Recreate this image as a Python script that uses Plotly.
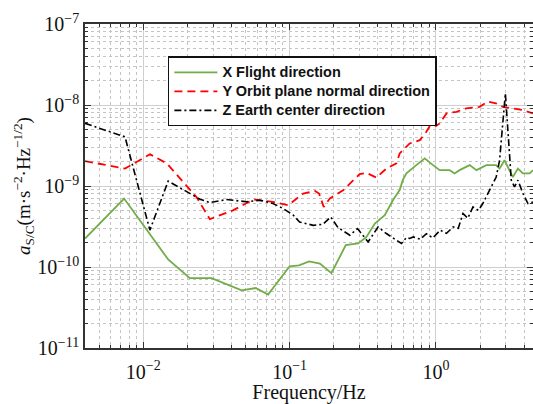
import plotly.graph_objects as go

# X Flight direction (green)
fx = [0.004, 0.0074, 0.0148, 0.0208, 0.0293, 0.047, 0.0587, 0.0713, 0.1, 0.116, 0.136,
      0.161, 0.193, 0.242, 0.294, 0.335, 0.382, 0.447, 0.509, 0.565, 0.593, 0.628, 0.734,
      0.838, 0.955, 1.06, 1.24, 1.34, 1.45, 1.70, 1.89, 2.21, 2.57, 2.72, 2.94, 3.19,
      3.35, 3.63, 3.93, 4.37, 4.6]
ax = [2.24e-10, 7.0e-10, 1.24e-10, 7.3e-11, 7.3e-11, 5.15e-11, 5.5e-11, 4.56e-11, 1.02e-10,
      1.05e-10, 1.17e-10, 1.1e-10, 8.4e-11, 1.86e-10, 1.95e-10, 2.35e-10, 3.44e-10, 4.37e-10,
      6.7e-10, 8.9e-10, 1.18e-9, 1.43e-9, 1.81e-9, 2.19e-9, 1.81e-9, 1.57e-9, 1.57e-9,
      1.43e-9, 1.57e-9, 1.81e-9, 1.57e-9, 1.81e-9, 1.81e-9, 1.64e-9, 2.08e-9, 1.57e-9,
      1.29e-9, 1.64e-9, 1.43e-9, 1.43e-9, 1.57e-9]

# Y Orbit plane normal direction (red)
fy = [0.004, 0.0075, 0.0111, 0.0145, 0.0231, 0.0285, 0.041, 0.0564, 0.0627, 0.077, 0.0977,
      0.124, 0.149, 0.159, 0.171, 0.188, 0.232, 0.271, 0.301, 0.335, 0.392, 0.458, 0.537,
      0.565, 0.596, 0.661, 0.775, 0.86, 0.93, 1.0, 1.06, 1.18, 1.38, 1.61, 1.99, 2.25,
      2.57, 2.86, 3.35, 3.93, 4.6]
ay = [2.03e-9, 1.64e-9, 2.47e-9, 1.9e-9, 7.3e-10, 3.9e-10, 5.0e-10, 6.8e-10, 6.67e-10,
      6.35e-10, 5.79e-10, 8.07e-10, 8.7e-10, 8.07e-10, 5.52e-10, 7.0e-10, 8.87e-10, 1.18e-9,
      1.4e-9, 1.45e-9, 1.27e-9, 1.64e-9, 1.9e-9, 2.52e-9, 2.77e-9, 3.35e-9, 3.68e-9,
      4.67e-9, 5.93e-9, 5.5e-9, 5.93e-9, 7.87e-9, 8.24e-9, 9.08e-9, 9.5e-9, 1.1e-8,
      1.05e-8, 9.5e-9, 9.08e-9, 8.65e-9, 7.87e-9]

# Z Earth center direction (black)
fz = [0.004, 0.0075, 0.0111, 0.0148, 0.0244, 0.0285, 0.037, 0.0508, 0.0627, 0.077, 0.0904,
      0.106, 0.117, 0.145, 0.169, 0.191, 0.214, 0.258, 0.291, 0.344, 0.402, 0.458, 0.537,
      0.581, 0.628, 0.661, 0.70, 0.78, 0.86, 0.95, 1.07, 1.18, 1.31, 1.42, 1.53, 1.65,
      1.79, 1.95, 2.09, 2.32, 2.58, 2.72, 2.87, 2.98, 3.10, 3.22, 3.27, 3.44, 3.63, 3.93,
      4.25, 4.6]
az = [5.93e-9, 4.05e-9, 2.85e-10, 1.15e-9, 6.87e-10, 6.25e-10, 6.8e-10, 6.4e-10, 6.67e-10,
      6.08e-10, 5.27e-10, 4.36e-10, 3.6e-10, 3.27e-10, 3.37e-10, 4.15e-10, 3.07e-10,
      2.47e-10, 2.98e-10, 2.04e-10, 3.12e-10, 2.59e-10, 2.14e-10, 1.95e-10, 2.31e-10,
      2.25e-10, 2.35e-10, 2.2e-10, 2.58e-10, 2.28e-10, 2.85e-10, 2.6e-10, 3.12e-10,
      3.0e-10, 4.57e-10, 4.0e-10, 5.52e-10, 5.0e-10, 6.08e-10, 8.87e-10, 1.29e-9, 2.08e-9,
      6.5e-9, 1.39e-8, 4.9e-9, 1.43e-9, 1.18e-9, 9.75e-10, 1.18e-9, 8.07e-10, 6.08e-10,
      6.36e-10]

names = ["X Flight direction", "Y Orbit plane normal direction", "Z Earth center direction"]

# tick labels
x_tickvals = [0.01, 0.1, 1]
x_ticktext = ["10<sup>−2</sup>", "10<sup>−1</sup>", "10<sup>0</sup>"]
y_tickvals = [1e-11, 1e-10, 1e-9, 1e-8, 1e-7]
y_ticktext = ["10<sup>−11</sup>", "10<sup>−10</sup>", "10<sup>−9</sup>", "10<sup>−8</sup>", "10<sup>−7</sup>"]

def minor_vals(lo_exp, hi_exp):
    return [m * 10.0 ** e for e in range(lo_exp, hi_exp) for m in range(2, 10)]

def legend_label(s):
    return '<span style="font-size:14.5px">' + s + '</span>'

fig = go.Figure()
fig.add_trace(go.Scatter(x=fx, y=ax, mode="lines", name=legend_label(names[0]),
                         line=dict(color="#70AD47", width=1.8)))
fig.add_trace(go.Scatter(x=fy, y=ay, mode="lines", name=legend_label(names[1]),
                         line=dict(color="#FF0000", width=1.8, dash="8px,5px")))
fig.add_trace(go.Scatter(x=fz, y=az, mode="lines", name=legend_label(names[2]),
                         line=dict(color="#000000", width=1.6, dash="7px,3px,2px,3px")))

serif = "Liberation Serif, Times New Roman, serif"
axis_common = dict(
    type="log", showline=True, linecolor="#333333", linewidth=1.5, mirror="ticks",
    ticks="inside", ticklen=6, tickcolor="#333333", tickwidth=1,
    showgrid=True, gridcolor="#cfcfcf", gridwidth=1, zeroline=False,
    tickmode="array", automargin=False,
    tickfont=dict(family=serif, size=20, color="#111111"),
)
minor_common = dict(ticks="inside", ticklen=3, tickcolor="#333333", tickmode="array",
                    showgrid=True, gridcolor="#c4c4c4", griddash="dot", gridwidth=1)

fig.update_xaxes(**axis_common, range=[-2.398, 0.663],
                 tickvals=x_tickvals, ticktext=x_ticktext, ticklabelstandoff=5,
                 minor=dict(**minor_common, tickvals=minor_vals(-3, 1)),
                 title=dict(text="Frequency/Hz", font=dict(family=serif, size=20, color="#111111"),
                            standoff=9))
fig.update_yaxes(**axis_common, range=[-11, -7],
                 tickvals=y_tickvals, ticktext=y_ticktext,
                 minor=dict(**minor_common, tickvals=minor_vals(-11, -7)),
                 title=dict(text="<i>a</i><sub>S/C</sub>(m·s<sup>−2</sup>·Hz<sup>−1/2</sup>)",
                            font=dict(family=serif, size=19, color="#111111"), standoff=0))

fig.update_layout(
    width=533, height=404,
    margin=dict(l=85, r=0, t=24, b=56, autoexpand=False),
    paper_bgcolor="white", plot_bgcolor="white",
    showlegend=True,
    legend=dict(x=0.185, y=0.9, xanchor="left", yanchor="top",
                bgcolor="white", bordercolor="#111111", borderwidth=1.5,
                font=dict(family="Liberation Sans, Arial, sans-serif", size=12,
                          color="#111111", weight="bold"),
                tracegroupgap=0, itemwidth=43),
)

fig.write_html("out.html", config={"displayModeBar": False},
               post_script="document.body.style.margin='0';")
